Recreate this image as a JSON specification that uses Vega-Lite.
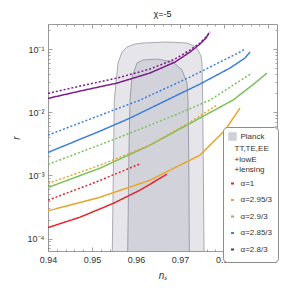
{
  "$schema": "https://vega.github.io/schema/vega-lite/v6.json",
  "width": 229,
  "height": 227,
  "autosize": {"type": "none"},
  "padding": {"left": 48, "top": 24, "right": 12, "bottom": 41},
  "background": "white",
  "title": {"text": "χ=-5", "font": "Liberation Sans", "fontSize": 9, "fontWeight": "normal", "color": "#222", "offset": 5},
  "config": {
    "view": {"stroke": "#9a9a9a", "strokeWidth": 1},
    "axis": {"domain": false, "grid": false, "tickColor": "#8a8a8a", "tickWidth": 0.8, "labelFont": "Liberation Sans", "labelFontSize": 9, "labelColor": "#333", "titleFont": "Liberation Sans", "titleFontWeight": "normal", "titleFontStyle": "italic", "titleFontSize": 10, "titleColor": "#333", "labelOverlap": false, "labelFlush": false}
  },
  "datasets": {
    "planck": [
      {"region": "outer", "ns": 0.95444, "r": 0.00001},
      {"region": "outer", "ns": 0.9546, "r": 0.000063},
      {"region": "outer", "ns": 0.95506, "r": 0.01556},
      {"region": "outer", "ns": 0.9559, "r": 0.06},
      {"region": "outer", "ns": 0.9568, "r": 0.0896},
      {"region": "outer", "ns": 0.95794, "r": 0.1076},
      {"region": "outer", "ns": 0.95976, "r": 0.12},
      {"region": "outer", "ns": 0.96157, "r": 0.1245},
      {"region": "outer", "ns": 0.96702, "r": 0.129},
      {"region": "outer", "ns": 0.97157, "r": 0.1245},
      {"region": "outer", "ns": 0.97316, "r": 0.1115},
      {"region": "outer", "ns": 0.97406, "r": 0.0964},
      {"region": "outer", "ns": 0.97474, "r": 0.0775},
      {"region": "outer", "ns": 0.97497, "r": 0.06},
      {"region": "outer", "ns": 0.97513, "r": 0.01556},
      {"region": "outer", "ns": 0.97543, "r": 0.000063},
      {"region": "outer", "ns": 0.9755, "r": 0.00001},
      {"region": "inner", "ns": 0.95803, "r": 0.00001},
      {"region": "inner", "ns": 0.9581, "r": 0.000063},
      {"region": "inner", "ns": 0.95839, "r": 0.002508},
      {"region": "inner", "ns": 0.95862, "r": 0.01556},
      {"region": "inner", "ns": 0.95908, "r": 0.03599},
      {"region": "inner", "ns": 0.96021, "r": 0.06},
      {"region": "inner", "ns": 0.96157, "r": 0.0669},
      {"region": "inner", "ns": 0.96475, "r": 0.0694},
      {"region": "inner", "ns": 0.96839, "r": 0.0622},
      {"region": "inner", "ns": 0.97043, "r": 0.0465},
      {"region": "inner", "ns": 0.97157, "r": 0.0289},
      {"region": "inner", "ns": 0.97179, "r": 0.01556},
      {"region": "inner", "ns": 0.97195, "r": 0.002508},
      {"region": "inner", "ns": 0.97209, "r": 0.000063},
      {"region": "inner", "ns": 0.97216, "r": 0.00001}
    ],
    "curves": [
      {"key": "α=2.8/3", "style": "solid", "ns": 0.94, "r": 0.01655},
      {"key": "α=2.8/3", "style": "solid", "ns": 0.94727, "r": 0.0216},
      {"key": "α=2.8/3", "style": "solid", "ns": 0.95567, "r": 0.0289},
      {"key": "α=2.8/3", "style": "solid", "ns": 0.96316, "r": 0.0417},
      {"key": "α=2.8/3", "style": "solid", "ns": 0.96884, "r": 0.0622},
      {"key": "α=2.8/3", "style": "solid", "ns": 0.97224, "r": 0.0896},
      {"key": "α=2.8/3", "style": "solid", "ns": 0.97451, "r": 0.12},
      {"key": "α=2.8/3", "style": "solid", "ns": 0.97588, "r": 0.1494},
      {"key": "α=2.8/3", "style": "solid", "ns": 0.97656, "r": 0.1793},
      {"key": "α=2.8/3", "style": "dotted", "ns": 0.94, "r": 0.01986},
      {"key": "α=2.8/3", "style": "dotted", "ns": 0.94727, "r": 0.0259},
      {"key": "α=2.8/3", "style": "dotted", "ns": 0.95567, "r": 0.0347},
      {"key": "α=2.8/3", "style": "dotted", "ns": 0.96316, "r": 0.0482},
      {"key": "α=2.8/3", "style": "dotted", "ns": 0.96884, "r": 0.0694},
      {"key": "α=2.8/3", "style": "dotted", "ns": 0.97224, "r": 0.0964},
      {"key": "α=2.8/3", "style": "dotted", "ns": 0.97451, "r": 0.1245},
      {"key": "α=2.8/3", "style": "dotted", "ns": 0.97588, "r": 0.155},
      {"key": "α=2.8/3", "style": "dotted", "ns": 0.97679, "r": 0.1859},
      {"key": "α=2.85/3", "style": "solid", "ns": 0.94, "r": 0.002306},
      {"key": "α=2.85/3", "style": "solid", "ns": 0.95181, "r": 0.00502},
      {"key": "α=2.85/3", "style": "solid", "ns": 0.95862, "r": 0.00806},
      {"key": "α=2.85/3", "style": "solid", "ns": 0.96702, "r": 0.01556},
      {"key": "α=2.85/3", "style": "solid", "ns": 0.97451, "r": 0.0279},
      {"key": "α=2.85/3", "style": "solid", "ns": 0.98133, "r": 0.05},
      {"key": "α=2.85/3", "style": "solid", "ns": 0.98473, "r": 0.072},
      {"key": "α=2.85/3", "style": "solid", "ns": 0.98587, "r": 0.0896},
      {"key": "α=2.85/3", "style": "dotted", "ns": 0.94, "r": 0.00434},
      {"key": "α=2.85/3", "style": "dotted", "ns": 0.94954, "r": 0.00777},
      {"key": "α=2.85/3", "style": "dotted", "ns": 0.96089, "r": 0.01556},
      {"key": "α=2.85/3", "style": "dotted", "ns": 0.97224, "r": 0.036},
      {"key": "α=2.85/3", "style": "dotted", "ns": 0.97906, "r": 0.0622},
      {"key": "α=2.85/3", "style": "dotted", "ns": 0.9836, "r": 0.0896},
      {"key": "α=2.85/3", "style": "dotted", "ns": 0.98473, "r": 0.1},
      {"key": "α=2.9/3", "style": "solid", "ns": 0.94, "r": 0.000643},
      {"key": "α=2.9/3", "style": "solid", "ns": 0.95181, "r": 0.0013},
      {"key": "α=2.9/3", "style": "solid", "ns": 0.96316, "r": 0.00301},
      {"key": "α=2.9/3", "style": "solid", "ns": 0.97156, "r": 0.00625},
      {"key": "α=2.9/3", "style": "solid", "ns": 0.98201, "r": 0.01556},
      {"key": "α=2.9/3", "style": "solid", "ns": 0.987, "r": 0.0289},
      {"key": "α=2.9/3", "style": "solid", "ns": 0.98973, "r": 0.0417},
      {"key": "α=2.9/3", "style": "dotted", "ns": 0.94, "r": 0.001489},
      {"key": "α=2.9/3", "style": "dotted", "ns": 0.95635, "r": 0.00403},
      {"key": "α=2.9/3", "style": "dotted", "ns": 0.96997, "r": 0.00968},
      {"key": "α=2.9/3", "style": "dotted", "ns": 0.97679, "r": 0.01556},
      {"key": "α=2.9/3", "style": "dotted", "ns": 0.98246, "r": 0.0279},
      {"key": "α=2.9/3", "style": "dotted", "ns": 0.98632, "r": 0.0417},
      {"key": "α=2.95/3", "style": "solid", "ns": 0.94, "r": 0.000274},
      {"key": "α=2.95/3", "style": "solid", "ns": 0.95181, "r": 0.000451},
      {"key": "α=2.95/3", "style": "solid", "ns": 0.96316, "r": 0.000839},
      {"key": "α=2.95/3", "style": "solid", "ns": 0.97451, "r": 0.002089},
      {"key": "α=2.95/3", "style": "solid", "ns": 0.98019, "r": 0.0052},
      {"key": "α=2.95/3", "style": "solid", "ns": 0.9836, "r": 0.01162},
      {"key": "α=2.95/3", "style": "dotted", "ns": 0.94, "r": 0.000744},
      {"key": "α=2.95/3", "style": "dotted", "ns": 0.95181, "r": 0.001451},
      {"key": "α=2.95/3", "style": "dotted", "ns": 0.96316, "r": 0.00301},
      {"key": "α=2.95/3", "style": "dotted", "ns": 0.97224, "r": 0.00697},
      {"key": "α=2.95/3", "style": "dotted", "ns": 0.97838, "r": 0.01296},
      {"key": "α=1", "style": "solid", "ns": 0.94, "r": 0.000149},
      {"key": "α=1", "style": "solid", "ns": 0.94727, "r": 0.000218},
      {"key": "α=1", "style": "solid", "ns": 0.95476, "r": 0.000359},
      {"key": "α=1", "style": "solid", "ns": 0.96089, "r": 0.000583},
      {"key": "α=1", "style": "solid", "ns": 0.96702, "r": 0.001045},
      {"key": "α=1", "style": "dotted", "ns": 0.94, "r": 0.000405},
      {"key": "α=1", "style": "dotted", "ns": 0.95022, "r": 0.000752},
      {"key": "α=1", "style": "dotted", "ns": 0.95635, "r": 0.001124},
      {"key": "α=1", "style": "dotted", "ns": 0.96073, "r": 0.001505}
    ]
  },
  "layer": [
    {
      "data": {"name": "planck"},
      "transform": [{"filter": "datum.region === 'outer'"}],
      "mark": {"type": "area", "clip": true, "fill": "#e6e6ea", "stroke": "#a9a9b3", "strokeWidth": 1},
      "encoding": {
        "x": {"field": "ns", "type": "quantitative", "scale": {"domain": [0.94, 0.992], "nice": false, "zero": false},
          "axis": {"orient": "bottom", "title": "nₛ", "titlePadding": 6, "labelOverlap": false, "labelFlush": false,
            "values": [0.94, 0.95, 0.96, 0.97, 0.98, 0.99], "format": ".2f", "tickSize": -4, "labelPadding": 8}},
        "y": {"field": "r", "type": "quantitative", "scale": {"type": "log", "domain": [0.0000635, 0.249], "nice": false},
          "axis": {"orient": "left", "title": "r", "titlePadding": 6, "labelOverlap": false, "labelFlush": false,
            "values": [0.0001, 0.001, 0.01, 0.1],
            "labelExpr": "datum.value === 0.1 ? '10⁻¹' : datum.value === 0.01 ? '10⁻²' : datum.value === 0.001 ? '10⁻³' : '10⁻⁴'",
            "tickSize": -4, "labelPadding": 8}},
        "y2": {"datum": 0.00001}
      }
    },
    {
      "data": {"name": "planck"},
      "transform": [{"filter": "datum.region === 'inner'"}],
      "mark": {"type": "area", "clip": true, "fill": "#d2d3da", "stroke": "#9d9daa", "strokeWidth": 1},
      "encoding": {
        "x": {"field": "ns", "type": "quantitative", "scale": {"domain": [0.94, 0.992], "nice": false, "zero": false},
          "axis": {"orient": "bottom", "title": null, "labels": false, "tickSize": -2,
            "values": [0.942,0.944,0.946,0.948,0.952,0.954,0.956,0.958,0.962,0.964,0.966,0.968,0.972,0.974,0.976,0.978,0.982,0.984,0.986,0.988]}},
        "y": {"field": "r", "type": "quantitative", "scale": {"type": "log", "domain": [0.0000635, 0.249], "nice": false},
          "axis": {"orient": "left", "title": null, "labels": false, "tickSize": -2,
            "values": [0.00007,0.00008,0.00009,0.0002,0.0003,0.0004,0.0005,0.0006,0.0007,0.0008,0.0009,0.002,0.003,0.004,0.005,0.006,0.007,0.008,0.009,0.02,0.03,0.04,0.05,0.06,0.07,0.08,0.09,0.2]}},
        "y2": {"datum": 0.00001}
      }
    },
    {
      "data": {"name": "curves"},
      "mark": {"type": "line", "clip": true, "strokeWidth": 1.5},
      "encoding": {
        "x": {"field": "ns", "type": "quantitative", "scale": {"domain": [0.94, 0.992], "nice": false, "zero": false},
          "axis": {"orient": "top", "title": null, "labels": false,
            "values": [0.94,0.942,0.944,0.946,0.948,0.95,0.952,0.954,0.956,0.958,0.96,0.962,0.964,0.966,0.968,0.97,0.972,0.974,0.976,0.978,0.98,0.982,0.984,0.986,0.988,0.99],
            "tickSize": {"condition": {"test": "abs(datum.value * 100 - round(datum.value * 100)) < 0.01", "value": -4}, "value": -2}}},
        "y": {"field": "r", "type": "quantitative", "scale": {"type": "log", "domain": [0.0000635, 0.249], "nice": false},
          "axis": {"orient": "right", "title": null, "labels": false,
            "values": [0.00007,0.00008,0.00009,0.0001,0.0002,0.0003,0.0004,0.0005,0.0006,0.0007,0.0008,0.0009,0.001,0.002,0.003,0.004,0.005,0.006,0.007,0.008,0.009,0.01,0.02,0.03,0.04,0.05,0.06,0.07,0.08,0.09,0.1,0.2],
            "tickSize": {"condition": {"test": "indexof([0.0001,0.001,0.01,0.1], datum.value) >= 0", "value": -4}, "value": -2}}},
        "color": {"field": "key", "type": "nominal",
          "scale": {"domain": ["Planck", "TT,TE,EE", "+lowE", "+lensing", "α=1", "α=2.95/3", "α=2.9/3", "α=2.85/3", "α=2.8/3"],
                    "range": ["#cfd0d8", "transparent", "transparent", "transparent", "#e4262b", "#e6a52c", "#7cbf5c", "#3f7fd9", "#7b1d8b"]},
          "legend": {"orient": "none", "legendX": 175, "legendY": 103, "title": null,
            "fillColor": "white", "strokeColor": "#8c8c8c", "cornerRadius": 4, "padding": 5.5,
            "symbolType": "stroke", "symbolSize": 36, "symbolStrokeWidth": 2,
            "labelFont": "Liberation Sans", "labelFontSize": 8, "labelColor": "#333", "labelOffset": 4, "rowPadding": 2.5,
            "encode": {
              "symbols": {"update": {
                "shape": {"signal": "datum.value === 'Planck' ? 'square' : indexof(['TT,TE,EE','+lowE','+lensing'], datum.value) >= 0 ? 'M-0.5,-0.52M-0.5,0L0.5,0M0.5,0.52' : 'M-0.5,-0.77M-0.5,0L0.5,0M0.5,0.77'"},
                "size": {"signal": "datum.value === 'Planck' ? 56 : 36"},
                "fill": {"signal": "datum.value === 'Planck' ? '#cfd0d8' : 'transparent'"},
                "stroke": {"signal": "datum.value === 'Planck' ? '#8e8e9c' : scale('color', datum.value)"},
                "strokeWidth": {"signal": "datum.value === 'Planck' ? 1 : 2"},
                "opacity": {"signal": "indexof(['TT,TE,EE','+lowE','+lensing'], datum.value) >= 0 ? 0 : 1"}
              }},
              "labels": {"update": {
                "dx": {"signal": "indexof(['TT,TE,EE','+lowE','+lensing'], datum.value) >= 0 ? -6 : 0"}
              }}
            }}},
        "strokeDash": {"field": "style", "type": "nominal", "scale": {"domain": ["solid", "dotted"], "range": [[1, 0], [2, 2]]}, "legend": null}
      }
    }
  ],
  "resolve": {"axis": {"x": "independent", "y": "independent"}}
}
